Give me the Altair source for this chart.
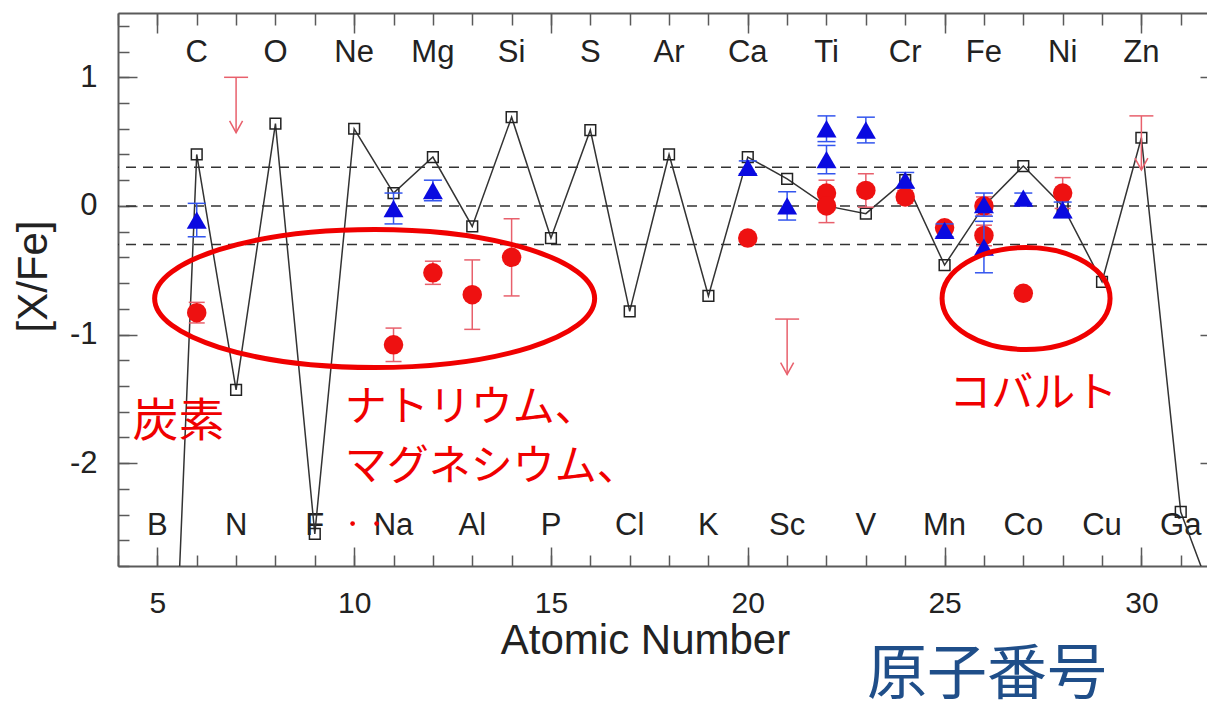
import altair as alt
import pandas as pd

# ---- model yields: [X/Fe] per atomic number (open squares joined by a line) ----
model_z = list(range(5, 33))
model_v = [-7.00, 0.40, -1.43, 0.64, -2.55, 0.60, 0.10, 0.38, -0.16, 0.69,
           -0.25, 0.59, -0.82, 0.40, -0.70, 0.38, 0.21, 0.00, -0.06, 0.20,
           -0.46, 0.00, 0.31, 0.00, -0.59, 0.53, -2.38, -3.20]

# ---- comparison sample (blue triangles) ----
blue_z = [6, 11, 12, 20, 21, 22, 22, 23, 24, 25, 26, 26, 27, 28]
blue_v = [-0.11, -0.02, 0.12, 0.30, 0.00, 0.60, 0.36, 0.59, 0.20, -0.19, 0.01, -0.32, 0.06, -0.03]
blue_err = [0.13, 0.12, 0.08, 0.05, 0.11, 0.10, 0.11, 0.10, 0.06, 0.05, 0.09, 0.20, 0.04, 0.06]

# ---- measured abundances (red circles) ----
red_z = [6, 11, 12, 13, 14, 20, 22, 22, 23, 24, 25, 26, 26, 27, 28]
red_v = [-0.83, -1.08, -0.52, -0.69, -0.40, -0.25, 0.10, 0.00, 0.12, 0.07, -0.17, 0.00, -0.23, -0.68, 0.10]
red_err = [0.08, 0.13, 0.09, 0.27, 0.30, 0.00, 0.10, 0.13, 0.13, 0.05, 0.04, 0.07, 0.08, 0.04, 0.12]

# ---- upper limits (N, Sc, Zn) ----
limit_z = [7, 21, 30]
limit_top = [1.00, -0.88, 0.70]
limit_tip = [0.57, -1.31, 0.28]

# ---- reference levels ----
ref_levels = [0.3, 0.0, -0.3]

# ---- element symbols along the top and bottom of the frame ----
top_z = list(range(6, 31, 2))
top_sym = ["C", "O", "Ne", "Mg", "Si", "S", "Ar", "Ca", "Ti", "Cr", "Fe", "Ni", "Zn"]
bottom_z = list(range(5, 32, 2))
bottom_sym = ["B", "N", "F", "Na", "Al", "P", "Cl", "K", "Sc", "V", "Mn", "Co", "Cu", "Ga"]

# ---- annotations ----
carbon_text = ["炭素"]
carbon_z = [4.37]
carbon_v = [-1.68]
note_text = ["ナトリウム、", "マグネシウム、", "コバルト"]
note_z = [9.76, 9.76, 25.12]
note_v = [-1.57, -2.03, -1.46]
ring_big = (10.52, -0.72)
ring_small = (27.07, -0.72)
speck_z = [9.96, 10.57]
speck_v = [-2.47, -2.47]

x_ticks_major = [5, 10, 15, 20, 25, 30]
x_ticks_minor = list(range(4, 32))
y_ticks_major = [-2, -1, 0, 1]
y_ticks_minor = [round(-2.8 + 0.2 * i, 1) for i in range(22)]

FONT = "Liberation Sans"
JP = "Noto Sans CJK JP"
FRAME = "#5a5a5a"
RED = "#ee1111"
RED_BAR = "#e8606c"
BLUE = "#0a0ae0"
BLUE_BAR = "#3355ee"
NOTE = "#f00000"

XS = alt.Scale(domain=[4, 31.667], nice=False, zero=False)
YS = alt.Scale(domain=[-2.8, 1.5], nice=False, zero=False)


def X(field="z", axis=None):
    return alt.X(f"{field}:Q", scale=XS, axis=axis)


def Y(field="v", axis=None):
    return alt.Y(f"{field}:Q", scale=YS, axis=axis)


def tick_axis(orient, values, size):
    # ticks drawn on the inside of the frame
    return alt.Axis(orient=orient, values=values, tickSize=size, offset=-size,
                    domain=False, labels=False, ticks=True, title=None, grid=False,
                    tickColor=FRAME, tickWidth=1.5)


def ellipse_path(ratio):
    k = 0.5523
    r = ratio
    return (f"M -1 0 C -1 {-k * r:.4f} {-k:.4f} {-r:.4f} 0 {-r:.4f} "
            f"C {k:.4f} {-r:.4f} 1 {-k * r:.4f} 1 0 "
            f"C 1 {k * r:.4f} {k:.4f} {r:.4f} 0 {r:.4f} "
            f"C {-k:.4f} {r:.4f} -1 {k * r:.4f} -1 0 Z")


axis_bottom = alt.Axis(
    orient="bottom", values=x_ticks_major, ticks=False, domain=True,
    domainColor=FRAME, domainWidth=2, grid=False,
    labelFont=FONT, labelFontSize=30, labelColor="#222", labelPadding=22,
    title="Atomic Number", titleFont=FONT, titleFontSize=42, titleFontWeight="normal",
    titleColor="#222", titleX=527, titleY=87, titleBaseline="alphabetic", titleAlign="center",
)
axis_left = alt.Axis(
    orient="left", values=y_ticks_major, ticks=False, domain=True,
    domainColor=FRAME, domainWidth=2, grid=False,
    labelFont=FONT, labelFontSize=31, labelColor="#222", labelPadding=21,
    labelExpr="replace(datum.label, '\u2212', '-')",
    title="[X/Fe]", titleFont=FONT, titleFontSize=42, titleFontWeight="normal",
    titleColor="#222", titleX=-72, titleY=263, titleAngle=270,
    titleBaseline="alphabetic", titleAlign="center",
)
axis_top_line = alt.Axis(orient="top", domain=True, ticks=False, labels=False, title=None,
                         grid=False, domainColor=FRAME, domainWidth=2)

model = pd.DataFrame({"z": model_z, "v": model_v})
blue = pd.DataFrame({"z": blue_z, "v": blue_v, "e": blue_err})
blue["lo"] = blue["v"] - blue["e"]
blue["hi"] = blue["v"] + blue["e"]
blue_caps = pd.DataFrame({"z": list(blue["z"]) * 2, "v": list(blue["lo"]) + list(blue["hi"])})
red = pd.DataFrame({"z": red_z, "v": red_v, "e": red_err})
red["lo"] = red["v"] - red["e"]
red["hi"] = red["v"] + red["e"]
red_bars = red[red["e"] > 0]
red_caps = pd.DataFrame({"z": list(red_bars["z"]) * 2, "v": list(red_bars["lo"]) + list(red_bars["hi"])})
limits = pd.DataFrame({"z": limit_z, "top": limit_top, "tip": limit_tip})
refs = pd.DataFrame({"v": ref_levels})
top_labels = pd.DataFrame({"z": top_z, "sym": top_sym, "v": 1.19})
bottom_labels = pd.DataFrame({"z": bottom_z, "sym": bottom_sym, "v": -2.49})
carbon = pd.DataFrame({"z": carbon_z, "v": carbon_v, "t": carbon_text})
notes = pd.DataFrame({"z": note_z, "v": note_v, "t": note_text})
specks = pd.DataFrame({"z": speck_z, "v": speck_v})

CAP = "M -1 0 L 1 0"
HEAD = "M -0.5 -0.9 L 0 0 L 0.5 -0.9"

dashed = alt.Chart(refs).mark_rule(color="#333", strokeWidth=1.5, strokeDash=[10, 7]).encode(
    y=Y("v", tick_axis("left", y_ticks_minor, 11)))

line = alt.Chart(model).mark_line(color="#333", strokeWidth=1.5, clip=True).encode(
    x=X("z", axis_bottom), y=Y("v", axis_left))

squares = alt.Chart(model).mark_point(shape="square", size=115, filled=False, color="#222",
                                      strokeWidth=1.5, opacity=1, clip=True).encode(
    x=X("z", tick_axis("bottom", x_ticks_major, 19)), y=Y("v", tick_axis("left", y_ticks_major, 19)))

red_rules = alt.Chart(red_bars).mark_rule(color=RED_BAR, strokeWidth=1.5).encode(
    x=X("z", tick_axis("bottom", x_ticks_minor, 11)),
    y=Y("lo", tick_axis("right", y_ticks_major, 7)), y2="hi:Q")

red_cap_marks = alt.Chart(red_caps).mark_point(shape=CAP, size=256, filled=False, color=RED_BAR,
                                               strokeWidth=1.5, opacity=1).encode(
    x=X("z", axis_top_line), y=Y("v"))

red_dots = alt.Chart(red).mark_point(shape="circle", size=380, filled=True, color=RED, opacity=1).encode(
    x=X("z", tick_axis("top", x_ticks_major, 20)), y=Y("v"))

blue_rules = alt.Chart(blue).mark_rule(color=BLUE_BAR, strokeWidth=1.5).encode(
    x=X("z", tick_axis("top", x_ticks_minor, 12)), y=Y("lo"), y2="hi:Q")

blue_cap_marks = alt.Chart(blue_caps).mark_point(shape=CAP, size=324, filled=False, color=BLUE_BAR,
                                                 strokeWidth=1.5, opacity=1).encode(
    x=X("z"), y=Y("v"))

blue_tris = alt.Chart(blue).mark_point(shape="triangle-up", size=400, filled=True, color=BLUE, opacity=1).encode(
    x=X("z"), y=Y("v"))

limit_rules = alt.Chart(limits).mark_rule(color=RED_BAR, strokeWidth=1.5).encode(
    x=X("z"), y=Y("top"), y2="tip:Q")
limit_caps = alt.Chart(limits).mark_point(shape=CAP, size=576, filled=False, color=RED_BAR,
                                          strokeWidth=1.5, opacity=1).encode(
    x=X("z"), y=Y("top"))
limit_heads = alt.Chart(limits).mark_point(shape=HEAD, size=676, filled=False, color=RED_BAR,
                                           strokeWidth=1.5, opacity=1).encode(
    x=X("z"), y=Y("tip"))

ring_a = alt.Chart(pd.DataFrame({"z": [ring_big[0]], "v": [ring_big[1]]})).mark_point(
    shape=ellipse_path(69 / 220), size=440 ** 2, filled=False, color=NOTE, strokeWidth=5, opacity=1).encode(
    x=X("z"), y=Y("v"))
ring_b = alt.Chart(pd.DataFrame({"z": [ring_small[0]], "v": [ring_small[1]]})).mark_point(
    shape=ellipse_path(51 / 84), size=168 ** 2, filled=False, color=NOTE, strokeWidth=5, opacity=1).encode(
    x=X("z"), y=Y("v"))

speck_marks = alt.Chart(specks).mark_point(shape="circle", size=22, filled=True, color=NOTE, opacity=1).encode(
    x=X("z"), y=Y("v"))

top_text = alt.Chart(top_labels).mark_text(font=FONT, fontSize=31, color="#222", baseline="middle", align="center").encode(
    x=X("z"), y=Y("v"), text="sym:N")
bottom_text = alt.Chart(bottom_labels).mark_text(font=FONT, fontSize=31, color="#222", baseline="middle", align="center").encode(
    x=X("z"), y=Y("v"), text="sym:N")

carbon_mark = alt.Chart(carbon).mark_text(font=JP, fontSize=46, color=NOTE, baseline="middle", align="left").encode(
    x=X("z"), y=Y("v"), text="t:N")
note_marks = alt.Chart(notes).mark_text(font=JP, fontSize=42, color=NOTE, baseline="middle", align="left").encode(
    x=X("z"), y=Y("v"), text="t:N")

chart = alt.layer(
    dashed, top_text, bottom_text, line, squares,
    red_rules, red_cap_marks, red_dots,
    blue_rules, blue_cap_marks, blue_tris,
    limit_rules, limit_caps, limit_heads,
    ring_a, ring_b, speck_marks, carbon_mark, note_marks,
).resolve_axis(
    x="independent", y="independent"
).properties(
    width=1089, height=553,
    padding={"left": 118, "top": 13, "right": 0, "bottom": 137},
    autosize=alt.AutoSizeParams(type="none"),
    background="white",
    title=alt.TitleParams("原子番号", orient="bottom", anchor="end", frame="group",
                          font=JP, fontSize=60, fontWeight="normal", color="#1f4e89",
                          dx=-100, offset=-14, baseline="top"),
).configure_view(stroke=None).configure_axis(grid=False)

chart.save("out.html", embed_options={"renderer": "svg", "actions": False})
